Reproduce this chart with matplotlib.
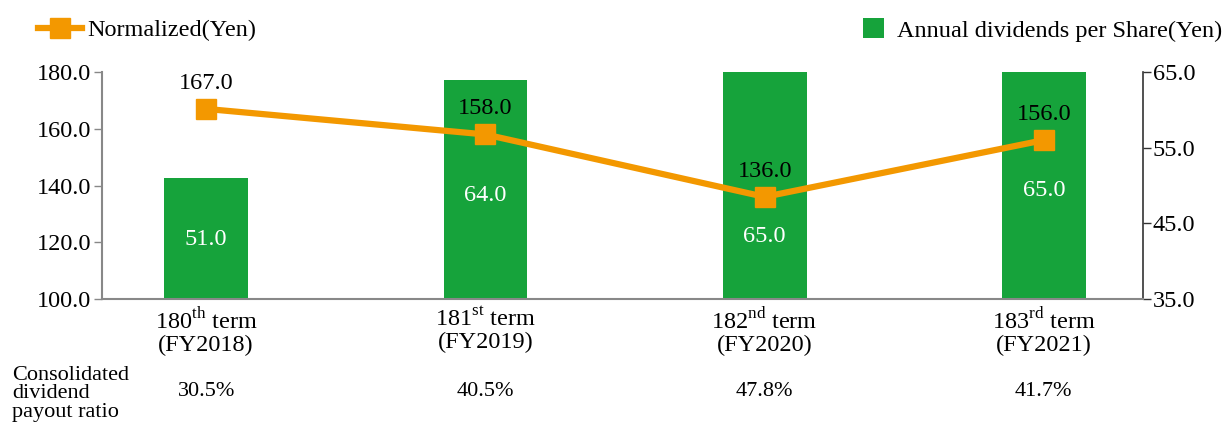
import matplotlib
matplotlib.use('Agg')
import matplotlib.pyplot as plt
from matplotlib.lines import Line2D
from matplotlib.patches import Patch
import matplotlib.transforms as mtransforms

plt.rcParams['font.family'] = ['Liberation Serif', 'DejaVu Serif']
plt.rcParams['mathtext.fontset'] = 'custom'
plt.rcParams['mathtext.rm'] = 'Liberation Serif'

# data
terms = ['180', '181', '182', '183']
suffixes = ['th', 'st', 'nd', 'rd']
years = ['FY2018', 'FY2019', 'FY2020', 'FY2021']
normalized = [167.0, 158.0, 136.0, 156.0]
dividends = [51.0, 64.0, 65.0, 65.0]
payout_ratio = ['30.5%', '40.5%', '47.8%', '41.7%']

orange = '#F39800'
green = '#16A33B'
fs = 17.5

fig = plt.figure(figsize=(12.26, 4.25), dpi=100)
ax = fig.add_axes([0.0832, 0.2965, 0.8491, 0.534])
ax2 = ax.twinx()

x = list(range(len(terms)))

# bars on right axis, line on left axis (line drawn above bars)
ax2.bar(x, dividends, width=0.30, color=green, zorder=1)
ax2.set_ylim(35, 65)
ax.set_ylim(100, 180)
ax.set_zorder(ax2.get_zorder() + 1)
ax.patch.set_visible(False)
ax.plot(x, normalized, color=orange, lw=4.5, marker='s', markersize=14, zorder=3)
ax.set_xlim(-0.373, 3.355)

# labels on line
for xi, v in zip(x, normalized):
    ax.annotate(f'{v:.1f}', (xi, v), xytext=(0, 18.5), textcoords='offset points',
                ha='center', va='center', fontsize=fs, color='black')

# labels inside bars
bar_label_y = [42.8, 48.7, 43.2, 49.4]
for xi, v, ly in zip(x, dividends, bar_label_y):
    ax2.text(xi, ly, f'{v:.1f}', ha='center', va='center', fontsize=fs, color='white')

# ticks
ax.set_yticks([100, 120, 140, 160, 180])
ax.set_yticklabels([f'{t:.1f}' for t in [100, 120, 140, 160, 180]])
ax2.set_yticks([35, 45, 55, 65])
ax2.set_yticklabels([f'{t:.1f}' for t in [35, 45, 55, 65]])
ax.set_xticks(x)
ax.set_xticklabels([f'{t}$^{{\\mathrm{{{s}}}}}$ term\n({y})' for t, s, y in zip(terms, suffixes, years)],
                   fontsize=fs, linespacing=1.05)
ax.tick_params(axis='x', length=0, pad=6)
ax.tick_params(axis='y', labelsize=fs, length=6, width=1, color='#888888', pad=2)
ax2.tick_params(axis='y', labelsize=fs, length=6, width=1, color='#333333', pad=1)

for a in (ax, ax2):
    a.spines['top'].set_visible(False)
ax.spines['left'].set_color('#888888')
ax.spines['bottom'].set_color('#888888')
ax.spines['right'].set_visible(False)
ax2.spines['left'].set_visible(False)
ax2.spines['bottom'].set_visible(False)
ax2.spines['right'].set_color('#333333')
for sp in ax.spines.values():
    sp.set_linewidth(1.5)
ax2.spines['right'].set_linewidth(1.2)

# payout ratio row
trans = mtransforms.blended_transform_factory(ax.transData, fig.transFigure)
for xi, p in zip(x, payout_ratio):
    ax.text(xi, 1 - 392 / 425, p, transform=trans, ha='center', va='center', fontsize=16)
fig.text(12 / 1226, 1 - 366 / 425, 'Consolidated\ndividend\npayout ratio', ha='left', va='top',
         fontsize=16, linespacing=0.95)

# legends
h1 = Line2D([], [], color=orange, lw=4.5, marker='s', markersize=14)
h2 = Patch(facecolor=green)
fig.legend(handles=[h1], labels=['Normalized(Yen)'], loc='center left',
           bbox_to_anchor=(16 / 1226, 1 - 30 / 425), frameon=False, fontsize=fs,
           handlelength=1.8, handletextpad=0.25)
fig.legend(handles=[h2], labels=['Annual dividends per Share(Yen)'], loc='center right',
           bbox_to_anchor=(1244 / 1226, 1 - 30 / 425), frameon=False, fontsize=fs,
           handlelength=0.85, handleheight=0.85, handletextpad=0.55)

fig.savefig('out.png', dpi=100)
